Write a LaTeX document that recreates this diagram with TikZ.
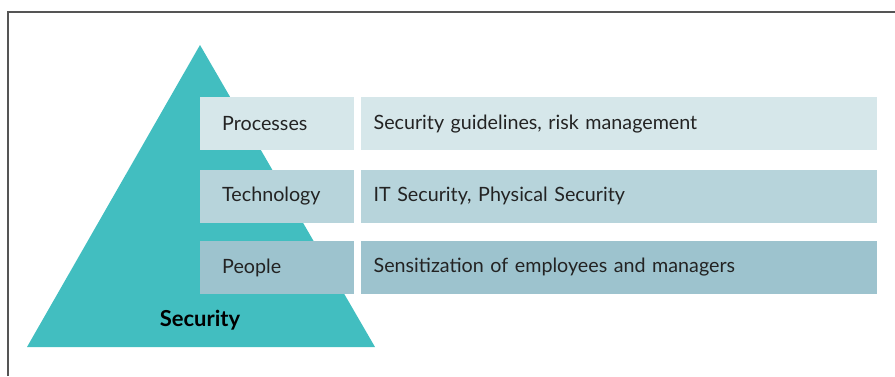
\documentclass[tikz,border=0pt]{standalone}
\usepackage{fontspec}
\setmainfont{Lato}
\usetikzlibrary{positioning}

\definecolor{pyrteal}{RGB}{66,190,192}
\definecolor{rowone}{RGB}{214,231,234}
\definecolor{rowtwo}{RGB}{183,212,219}
\definecolor{rowthree}{RGB}{157,195,206}
\definecolor{framegray}{RGB}{85,85,85}
\definecolor{labeltext}{RGB}{35,35,35}

\begin{document}
\begin{tikzpicture}[
    x=1pt, y=-1pt,
    node distance=19pt,
    catbox/.style={rectangle, minimum width=154pt, minimum height=53pt, text width=110pt, inner xsep=22pt, align=left, anchor=north west, font=\fontsize{19.7}{22}\selectfont, text=labeltext},
    descbox/.style={rectangle, minimum width=516pt, minimum height=53pt, text width=490pt, inner xsep=13pt, align=left, font=\fontsize{19.7}{22}\selectfont, text=labeltext}
]
\useasboundingbox (0,0) rectangle (895,376);

% Frame
\draw[framegray, line width=1.4pt] (8,376) -- (8,12) -- (895,12);

% Pyramid
\fill[pyrteal] (200,45) -- (375,347) -- (27,347) -- cycle;
\node[font=\fontsize{22}{24}\selectfont\bfseries, text=black] (seclabel) at (200,320) {Security};

% Rows
\node[catbox, fill=rowone] (proc) at (200,97) {Processes};
\node[descbox, fill=rowone, right=6pt of proc] (procdesc) {Security guidelines, risk management};

\node[catbox, fill=rowtwo, below=19pt of proc.south west, anchor=north west] (tech) {Technology};
\node[descbox, fill=rowtwo, right=6pt of tech] (techdesc) {IT Security, Physical Security};

\node[catbox, fill=rowthree, below=18pt of tech.south west, anchor=north west] (people) {People};
\node[descbox, fill=rowthree, right=6pt of people] (peopledesc) {Sensitization of employees and managers};

\end{tikzpicture}
\end{document}
